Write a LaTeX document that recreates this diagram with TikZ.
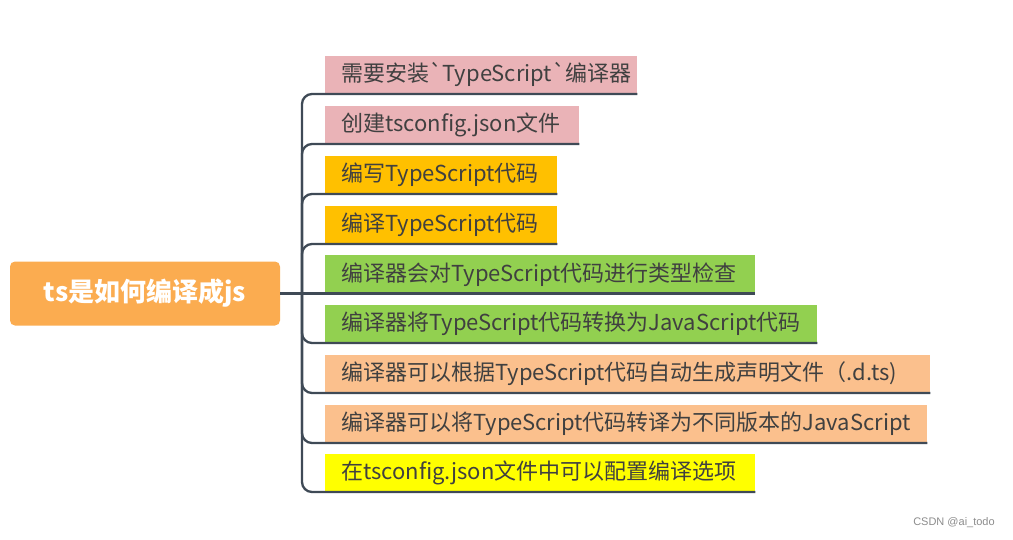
\documentclass[tikz,border=0pt]{standalone}
\usepackage{fontspec}
\newfontfamily\cjk{Noto Sans CJK SC}
\newfontfamily\wmfont{Liberation Sans}
\definecolor{rootc}{HTML}{FBAC50}
\definecolor{pinkc}{HTML}{EAB3B7}
\definecolor{amberc}{HTML}{FFC000}
\definecolor{greenc}{HTML}{92D050}
\definecolor{peachc}{HTML}{FBC08D}
\definecolor{yellc}{HTML}{FFFF00}
\definecolor{linec}{HTML}{3F4A56}
\definecolor{txtc}{HTML}{404040}
\newcommand{\bq}{\char"60\relax}
\tikzset{
  rootbox/.style={rectangle, rounded corners=5pt, fill=rootc, minimum width=270, minimum height=64, inner sep=0pt,
    text=white, font=\cjk\fontsize{26}{31}\selectfont\bfseries},
  childbox/.style={rectangle, anchor=south west, minimum height=38, inner sep=0pt},
  childtxt/.style={anchor=west, xshift=16, inner sep=0pt, text=txtc, font=\cjk\fontsize{22}{26}\selectfont},
  branch/.style={draw=linec, line width=2.3pt, rounded corners=10pt},
}
\begin{document}
\begin{tikzpicture}[x=1pt, y=-1pt]
\useasboundingbox (0,0) rectangle (1013,539);
\node[rootbox] (root) at (145,293.5) {ts是如何编译成js};
\coordinate (hub) at (302,293.5);
% children
\node[childbox, fill=pinkc,  minimum width=312] (c1) at (325,94) {};
\node[childbox, fill=pinkc,  minimum width=254] (c2) at (325,144) {};
\node[childbox, fill=amberc, minimum width=232] (c3) at (325,194) {};
\node[childbox, fill=amberc, minimum width=232] (c4) at (325,244) {};
\node[childbox, fill=greenc, minimum width=430] (c5) at (325,293.5) {};
\node[childbox, fill=greenc, minimum width=492] (c6) at (325,343) {};
\node[childbox, fill=peachc, minimum width=605] (c7) at (325,393) {};
\node[childbox, fill=peachc, minimum width=602] (c8) at (325,443) {};
\node[childbox, fill=yellc,  minimum width=430] (c9) at (325,492) {};
\node[childtxt] (t1) at (c1.west) {需要安装\bq TypeScript\bq 编译器};
\node[childtxt] (t2) at (c2.west) {创建tsconfig.json文件};
\node[childtxt] (t3) at (c3.west) {编写TypeScript代码};
\node[childtxt] (t4) at (c4.west) {编译TypeScript代码};
\node[childtxt] (t5) at (c5.west) {编译器会对TypeScript代码进行类型检查};
\node[childtxt] (t6) at (c6.west) {编译器将TypeScript代码转换为JavaScript代码};
\node[childtxt] (t7) at (c7.west) {编译器可以根据TypeScript代码自动生成声明文件（.d.ts)};
\node[childtxt] (t8) at (c8.west) {编译器可以将TypeScript代码转译为不同版本的JavaScript};
\node[childtxt] (t9) at (c9.west) {在tsconfig.json文件中可以配置编译选项};
% connectors
\draw[branch] (root.east) -- (hub);
\foreach \c in {c1,c2,c3,c4,c6,c7,c8,c9} {
  \draw[branch] (hub) |- (\c.south east);
}
\draw[branch] (hub) -- (c5.south east);
% watermark
\node[text=black!45, font=\wmfont\fontsize{11}{13}\selectfont, inner sep=0pt] (wm) at (954,523) {CSDN @ai\_todo};
\end{tikzpicture}
\end{document}
